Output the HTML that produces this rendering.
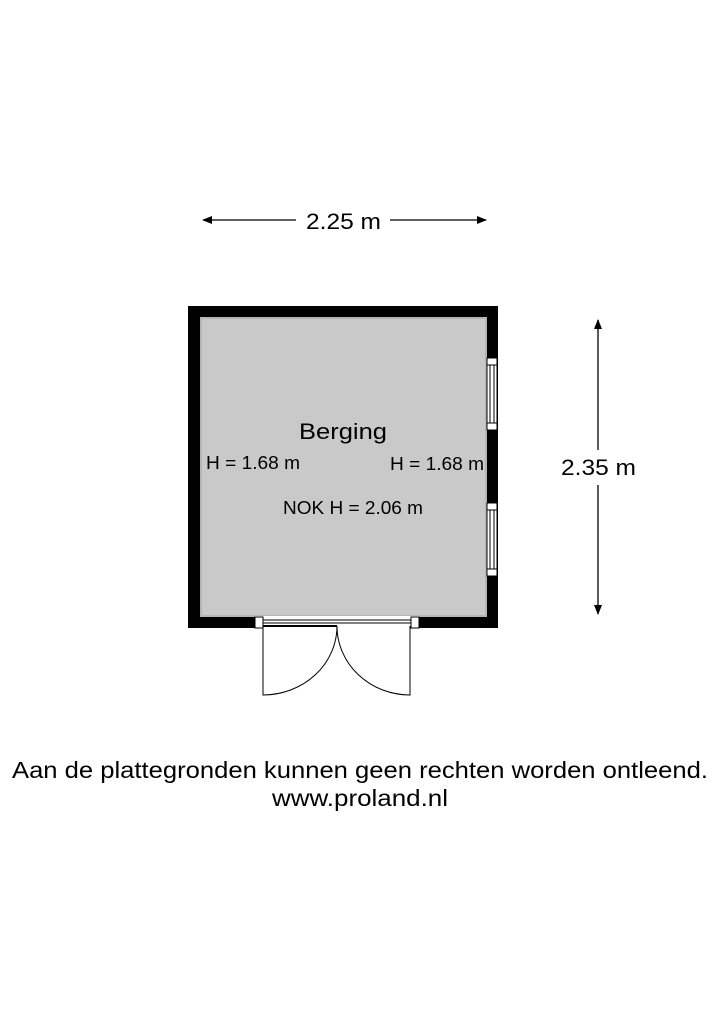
<!DOCTYPE html>
<html><head><style>
body{margin:0;background:#fff;}
svg{display:block;font-family:"Liberation Sans",sans-serif;}
</style></head><body>
<svg width="720" height="1018" viewBox="0 0 720 1018">
<defs>
<marker id="a" markerWidth="10" markerHeight="8" refX="9" refY="4" orient="auto" markerUnits="userSpaceOnUse"><path d="M0,0 L10,4 L0,8 Z" fill="#000"/></marker>
</defs>
<line x1="296" y1="220" x2="203" y2="220" stroke="#000" stroke-width="1.3" marker-end="url(#a)"/>
<line x1="390" y1="220" x2="486" y2="220" stroke="#000" stroke-width="1.3" marker-end="url(#a)"/>
<text x="306" y="229" font-size="22" textLength="75" lengthAdjust="spacingAndGlyphs">2.25 m</text>
<line x1="598" y1="450" x2="598" y2="320" stroke="#000" stroke-width="1.3" marker-end="url(#a)"/>
<line x1="598" y1="485" x2="598" y2="614" stroke="#000" stroke-width="1.3" marker-end="url(#a)"/>
<text x="561" y="475" font-size="22" textLength="75" lengthAdjust="spacingAndGlyphs">2.35 m</text>
<rect x="188" y="306" width="310" height="322" fill="#000"/>
<rect x="201" y="318" width="285" height="298" fill="#c9c9c9"/>
<rect x="201" y="318" width="285" height="298" fill="none" stroke="#b5b5b5" stroke-width="2"/>
<g fill="#fff" stroke="#000" stroke-width="1">
<rect x="487" y="358" width="10" height="72"/>
<rect x="487" y="358" width="10" height="7"/>
<rect x="487" y="423" width="10" height="7"/>
<line x1="490" y1="365" x2="490" y2="423"/><line x1="494" y1="365" x2="494" y2="423"/>
<rect x="487" y="503" width="10" height="73"/>
<rect x="487" y="503" width="10" height="7"/>
<rect x="487" y="569" width="10" height="7"/>
<line x1="490" y1="510" x2="490" y2="569"/><line x1="494" y1="510" x2="494" y2="569"/>
</g>
<rect x="255" y="616" width="164" height="13" fill="#fff"/>
<g fill="#fff" stroke="#000" stroke-width="1">
<rect x="255" y="617" width="8" height="11"/>
<rect x="411" y="617" width="8" height="11"/>
<line x1="263" y1="620" x2="411" y2="620"/>
<line x1="263" y1="623" x2="411" y2="623"/>
<line x1="263" y1="626" x2="337" y2="626" stroke-width="2"/>
</g>
<g fill="none" stroke="#000" stroke-width="1">
<path d="M263,626 L263,695 A74,69 0 0 0 337,626"/>
<path d="M410,626 L410,695 A73,69 0 0 1 337,626"/>
</g>
<text x="299" y="439" font-size="22" textLength="88" lengthAdjust="spacingAndGlyphs">Berging</text>
<text x="206" y="469" font-size="18" textLength="94" lengthAdjust="spacingAndGlyphs">H = 1.68 m</text>
<text x="390" y="470" font-size="18" textLength="94" lengthAdjust="spacingAndGlyphs">H = 1.68 m</text>
<text x="283" y="514" font-size="18" textLength="140" lengthAdjust="spacingAndGlyphs">NOK H = 2.06 m</text>
<text x="12" y="778" font-size="23" textLength="696" lengthAdjust="spacingAndGlyphs">Aan de plattegronden kunnen geen rechten worden ontleend.</text>
<text x="272" y="806" font-size="23" textLength="176" lengthAdjust="spacingAndGlyphs">www.proland.nl</text>
</svg>
</body></html>
